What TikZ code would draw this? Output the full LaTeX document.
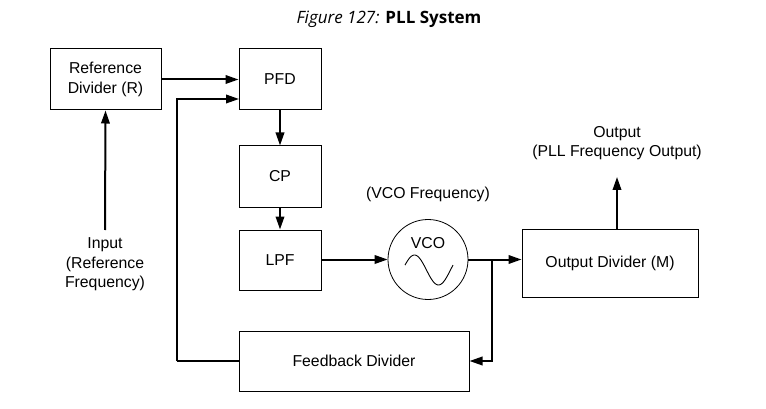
\documentclass[tikz,border=0pt]{standalone}
\usepackage{fontspec}
\setmainfont{Liberation Sans}
\newfontfamily\titlefont{Open Sans}
\usetikzlibrary{arrows.meta}

\begin{document}
\begin{tikzpicture}[
		x=1pt, y=-1pt,
		every node/.style={font=\fontsize{15.8}{19.5}\selectfont, align=center, inner sep=0pt},
		block/.style={draw, line width=1pt, minimum height=61pt},
		link/.style={line width=2pt, -{Triangle[length=13pt,width=8.5pt]}},
		wire/.style={line width=2pt}
		]
		\useasboundingbox (0,0) rectangle (766,409);
		% title
		\node (title) at (389,19) {\fontsize{17}{20}\selectfont\titlefont{\itshape Figure 127:} \bfseries PLL System};
		% blocks
		\node[block, minimum width=111pt] (refdiv) at (105.5,79.5) {Reference\\Divider (R)};
		\node[block, minimum width=82pt] (pfd) at (280,79.5) {PFD};
		\node[block, minimum width=82pt] (cp) at (280,176.5) {CP};
		\node[block, minimum width=82pt, minimum height=60pt] (lpf) at (280,260) {LPF};
		\node[draw, circle, line width=0.8pt, minimum size=80pt] (vco) at (428,259.5) {};
		\node (vcotxt) at (428,243) {VCO};
		\node (vcofreq) at (428,194) {(VCO Frequency)};
		\node[block, minimum width=176pt, minimum height=68pt] (outdiv) at (610,263) {Output Divider (M)};
		\node[block, minimum width=230pt, minimum height=60pt] (fbdiv) at (354,361) {Feedback Divider};
		% labels
		\node (inlbl) at (105,264.5) {Input\\(Reference\\Frequency)};
		\node (outlbl) at (617,143) {Output\\(PLL Frequency Output)};
		% sine inside the vco
		\draw[line width=0.9pt, domain=0:48, samples=50, smooth]
			plot ({405+\x}, {270-15*sin(\x*7.5+19)});
		% helper points
		\coordinate (instart) at (105,230);
		\coordinate (outtip) at (617,177);
		\coordinate (outstart) at (617,229);
		\coordinate (fbturn) at (177,361);
		\coordinate (fbin) at (239,99);
		\coordinate (split) at (492,259.5);
		% connectors
		\draw[link] (instart) -- (refdiv.south);
		\draw[link] (refdiv.east) -- (pfd.west);
		\draw[link] (pfd.south) -- (cp.north);
		\draw[link] (cp.south) -- (lpf.north);
		\draw[link] (lpf.east |- vco.west) -- (vco.west);
		\draw[link] (vco.east) -- (vco.east -| outdiv.west);
		\draw[link] (split) |- (fbdiv.east);
		\draw[wire] (fbdiv.west) -- (fbturn);
		\draw[link] (fbturn) |- (fbin);
		\draw[link] (outstart) -- (outtip);
	\end{tikzpicture}
\end{document}
